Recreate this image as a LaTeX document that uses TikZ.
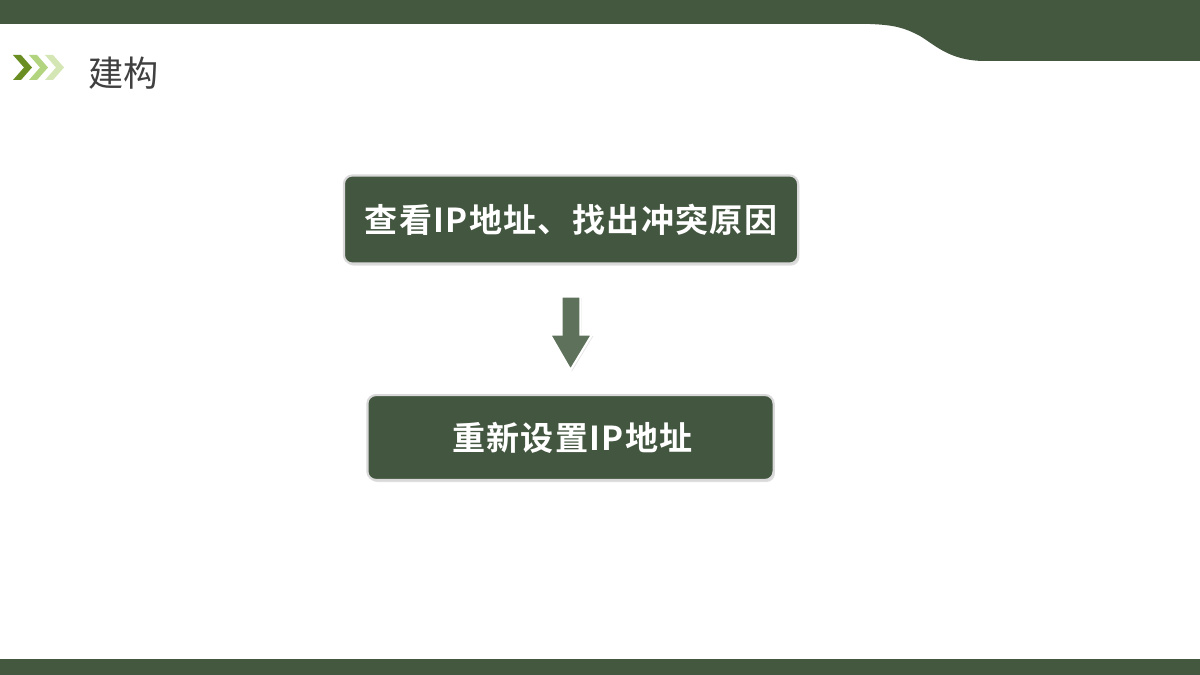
\documentclass[tikz,border=0pt]{standalone}
\usepackage{fontspec}
\newfontfamily\cjk{Noto Sans CJK SC}
\newfontfamily\cjkb[LetterSpace=4]{Noto Sans CJK SC Bold}
\usetikzlibrary{calc,shadows}
\definecolor{bargreen}{HTML}{44573F}
\definecolor{boxgreen}{HTML}{435640}
\definecolor{arrowgreen}{HTML}{5E715B}
\definecolor{chevA}{HTML}{6B8E23}
\definecolor{chevB}{HTML}{B3D47E}
\definecolor{chevC}{HTML}{D3E6B3}
\definecolor{titlegray}{HTML}{404040}
\tikzset{
  stepbox/.style={draw=white!85!black, line width=1.5pt, fill=boxgreen, rounded corners=6pt,
    text=white, font=\cjkb\fontsize{23.5}{28}\selectfont,
    drop shadow={shadow xshift=1pt, shadow yshift=-1.5pt, opacity=0.25}},
}
\begin{document}
\begin{tikzpicture}[x=0.025cm,y=-0.025cm]
\useasboundingbox (0,0) rectangle (1200,675);
\fill[white] (0,0) rectangle (1200,675);
% top bar
\fill[bargreen] (0,0) -- (1200,0) -- (1200,61) -- (985,61)
  .. controls (950,61) and (935,45) .. (920,36)
  .. controls (905,28) and (895,25) .. (870,24) -- (0,24) -- cycle;
% bottom bar
\fill[bargreen] (0,659) rectangle (1200,675);
% chevrons
\foreach \x/\c in {45/chevC,29/chevB,13/chevA}{
  \fill[\c] (\x,55) -- (\x+8,55) -- (\x+19,67.5) -- (\x+8,80) -- (\x,80) -- (\x+11,67.5) -- cycle;
}
\node[anchor=west, text=titlegray, font=\cjk\fontsize{25}{30}\selectfont, inner sep=0pt] (title) at (88,73) {建构};
% boxes
\node[stepbox, minimum width=11.35cm, minimum height=2.2cm] (a) at (571,219.5) {查看IP地址、找出冲突原因};
\node[stepbox, minimum width=10.15cm, minimum height=2.12cm] (b) at (570.5,437.5) {\hspace*{0.1cm}重新设置IP地址};
% block arrow
\coordinate (s) at ($(a.south)+(0,32)$);
\coordinate (t) at ($(b.north)+(0,-24)$);
\fill[arrowgreen, draw=white, line width=1.5pt, drop shadow={shadow xshift=1pt, shadow yshift=-1pt, opacity=0.2}]
  ($(s)+(-9.5,0)$) -- ($(s)+(9.5,0)$) -- ($(s)+(9.5,38)$) -- ($(s)+(21,38)$) -- (t)
  -- ($(s)+(-21,38)$) -- ($(s)+(-9.5,38)$) -- cycle;
\end{tikzpicture}
\end{document}
